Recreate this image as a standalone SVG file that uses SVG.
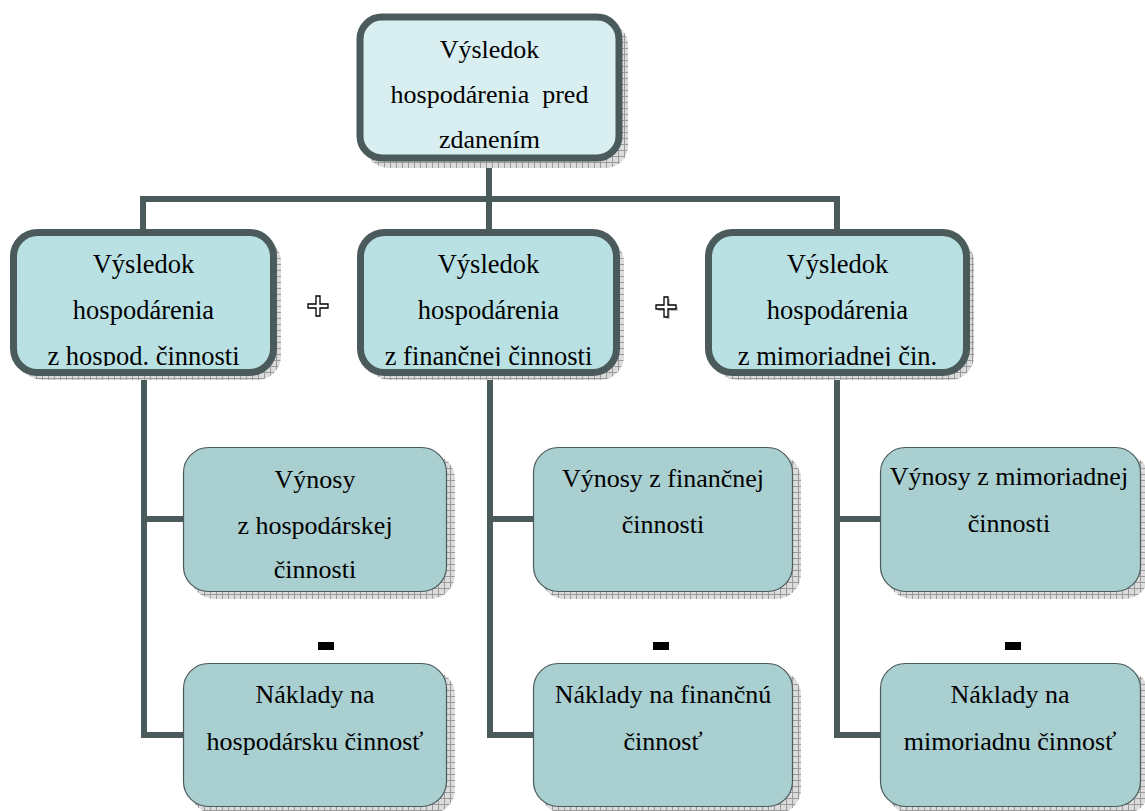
<svg xmlns="http://www.w3.org/2000/svg" width="1145" height="811" viewBox="0 0 1145 811">
  <defs>
    <pattern id="grid" width="6" height="6" patternUnits="userSpaceOnUse">
      <rect width="6" height="6" fill="#dcdcdc"/>
      <path d="M0 0.5H6M0.5 0V6" stroke="#9a9a9a" stroke-width="1"/>
    </pattern>
    <clipPath id="cTop"><rect x="364" y="21" width="251" height="130" rx="18"/></clipPath>
    <clipPath id="cL"><rect x="17" y="236" width="253" height="130" rx="20"/></clipPath>
    <clipPath id="cM"><rect x="364" y="236" width="249" height="130" rx="20"/></clipPath>
    <clipPath id="cR"><rect x="712" y="236" width="251" height="130" rx="20"/></clipPath>
  </defs>
  <style>
    .shadow { fill: url(#grid); }
    .thick { stroke: #4b5b5b; stroke-width: 7; }
    .top { fill: #d8eef0; }
    .mid { fill: #b9e0e3; }
    .thin { fill: #a9cfd0; stroke: #4b5b5b; stroke-width: 1.2; }
    .conn { fill: none; stroke: #4b5b5b; stroke-width: 6; stroke-linecap: square; }
    text { font-family: "Liberation Serif", "Times New Roman", serif; font-size: 26px; fill: #000; text-anchor: middle; }
    .m { font-size: 26.5px; }
  </style>

  <g id="connectors">
    <path class="conn" d="M489 160V199M143 199H837M143 199V232M489 199V232M837 199V232"/>
    <path class="conn" d="M144 370V735H186M144 519H186"/>
    <path class="conn" d="M490 370V735H536M490 519H536"/>
    <path class="conn" d="M837 370V735H883M837 519H883"/>
  </g>

  <g id="n-top">
    <rect class="shadow" x="366" y="23" width="262" height="145" rx="22"/>
    <rect class="thick top" x="360" y="17" width="259" height="141" rx="22"/>
    <g clip-path="url(#cTop)">
      <text x="489.5" y="58">Výsledok</text>
      <text x="489.5" y="103" xml:space="preserve">hospodárenia  pred</text>
      <text x="489.5" y="148">zdanením</text>
    </g>
  </g>

  <g id="n-hosp">
    <rect class="shadow" x="19" y="238" width="262" height="142" rx="24"/>
    <rect class="thick mid" x="13.5" y="232.5" width="260" height="140" rx="24"/>
    <g clip-path="url(#cL)" class="m">
      <text class="m" x="143.5" y="273">Výsledok</text>
      <text class="m" x="143.5" y="319">hospodárenia</text>
      <text class="m" x="143.5" y="365">z hospod. činnosti</text>
    </g>
  </g>

  <g id="n-fin">
    <rect class="shadow" x="366" y="238" width="258" height="142" rx="24"/>
    <rect class="thick mid" x="360.5" y="232.5" width="256" height="140" rx="24"/>
    <g clip-path="url(#cM)">
      <text class="m" x="488.5" y="273">Výsledok</text>
      <text class="m" x="488.5" y="319">hospodárenia</text>
      <text class="m" x="488.5" y="365">z finančnej činnosti</text>
    </g>
  </g>

  <g id="n-mim">
    <rect class="shadow" x="714" y="238" width="260" height="142" rx="24"/>
    <rect class="thick mid" x="708.5" y="232.5" width="258" height="140" rx="24"/>
    <g clip-path="url(#cR)">
      <text class="m" x="837.5" y="273">Výsledok</text>
      <text class="m" x="837.5" y="319">hospodárenia</text>
      <text class="m" x="837.5" y="365">z mimoriadnej čin.</text>
    </g>
  </g>

  <g id="n-vynosy-hosp">
    <rect class="shadow" x="190" y="454" width="265" height="145" rx="25"/>
    <rect class="thin" x="183.5" y="447.5" width="263" height="144" rx="25"/>
    <text x="315" y="488">Výnosy</text>
    <text x="315" y="534">z hospodárskej</text>
    <text x="315" y="578">činnosti</text>
  </g>

  <g id="n-naklady-hosp">
    <rect class="shadow" x="190" y="670" width="265" height="144" rx="25"/>
    <rect class="thin" x="183.5" y="663.5" width="263" height="143" rx="25"/>
    <text x="315" y="703">Náklady na</text>
    <text x="315" y="750">hospodársku činnosť</text>
  </g>

  <g id="n-vynosy-fin">
    <rect class="shadow" x="540" y="454" width="261" height="145" rx="25"/>
    <rect class="thin" x="533.5" y="447.5" width="259" height="144" rx="25"/>
    <text x="663" y="487">Výnosy z finančnej</text>
    <text x="663" y="533">činnosti</text>
  </g>

  <g id="n-naklady-fin">
    <rect class="shadow" x="540" y="670" width="261" height="144" rx="25"/>
    <rect class="thin" x="533.5" y="663.5" width="259" height="143" rx="25"/>
    <text x="663" y="703">Náklady na finančnú</text>
    <text x="663" y="750">činnosť</text>
  </g>

  <g id="n-vynosy-mim">
    <rect class="shadow" x="887" y="454" width="262" height="145" rx="25"/>
    <rect class="thin" x="880.5" y="447.5" width="260" height="144" rx="25"/>
    <text x="1009" y="485">Výnosy z mimoriadnej</text>
    <text x="1009" y="532">činnosti</text>
  </g>

  <g id="n-naklady-mim">
    <rect class="shadow" x="887" y="670" width="262" height="144" rx="25"/>
    <rect class="thin" x="880.5" y="663.5" width="260" height="143" rx="25"/>
    <text x="1010" y="703">Náklady na</text>
    <text x="1010" y="750">mimoriadnu činnosť</text>
  </g>

  <g id="operators">
    <path d="M316 296H320V304H328V308H320V316H316V308H308V304H316Z" fill="#fff" stroke="#000" stroke-width="1.3"/>
    <path d="M666 299H670V307H678V311H670V319H666V311H658V307H666Z" fill="#999" opacity="0.6"/>
    <path d="M664 297H668V305H676V309H668V317H664V309H656V305H664Z" fill="#fff" stroke="#000" stroke-width="1.3"/>
    <rect x="318" y="642" width="16" height="8" fill="#000"/>
    <rect x="653" y="642" width="16" height="8" fill="#000"/>
    <rect x="1005" y="642" width="16" height="8" fill="#000"/>
  </g>
</svg>
